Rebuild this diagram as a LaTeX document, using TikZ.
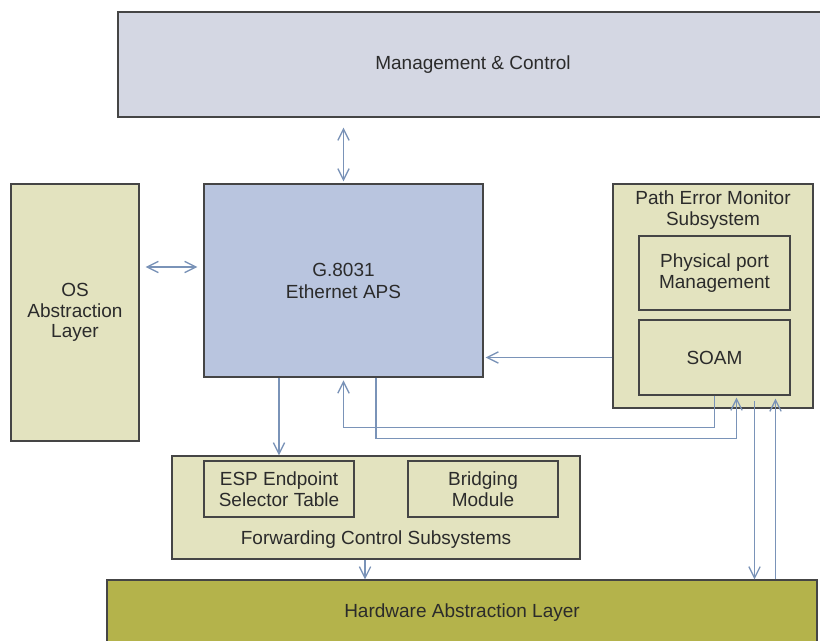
\documentclass[tikz,border=0pt]{standalone}
\usepackage{fontspec}
\setmainfont{Liberation Sans}
\usetikzlibrary{arrows.meta,calc}
\definecolor{mcfill}{HTML}{D4D7E3}
\definecolor{apsfill}{HTML}{B9C5DF}
\definecolor{khaki}{HTML}{E3E3BF}
\definecolor{halfill}{HTML}{B4B34B}
\definecolor{bordc}{HTML}{454545}
\definecolor{arrc}{HTML}{7A93B8}
\definecolor{txtc}{HTML}{2B2B2B}
\begin{document}
\begin{tikzpicture}[x=0.75pt,y=-0.75pt,
  box/.style={draw=bordc,line width=0.8pt,inner sep=0pt,text=txtc,align=center,
    font=\fontsize{14.25}{15.5}\selectfont},
  lbl/.style={inner sep=0pt,text=txtc,align=center,font=\fontsize{14.25}{15.5}\selectfont},
  arr/.style={draw=arrc,line width=1pt,-{Straight Barb[length=8.5pt,width=8.5pt]}},
  darr/.style={draw=arrc,line width=1pt,{Straight Barb[length=8.5pt,width=8.5pt]}-{Straight Barb[length=8.5pt,width=8.5pt]}}]
\useasboundingbox (0,0) rectangle (820,641);
\fill[white] (0,0) rectangle (820,641);
% boxes
\node[box,fill=mcfill,minimum width=710*0.75pt,minimum height=105*0.75pt] (mc) at (473,64.5) {Management \& Control};
\node[box,fill=apsfill,minimum width=279*0.75pt,minimum height=193*0.75pt] (aps) at (343.5,280.5) {G.8031\\[1pt]Ethernet APS};
\node[box,fill=khaki,minimum width=128*0.75pt,minimum height=257*0.75pt] (os) at (75,312.5) {OS\\Abstraction\\Layer};
\node[box,fill=khaki,minimum width=200*0.75pt,minimum height=224*0.75pt] (pem) at (713,296) {};
\node[lbl] (pemt) at (713,210) {Path Error Monitor\\Subsystem};
\node[box,fill=khaki,minimum width=151*0.75pt,minimum height=74*0.75pt] (ppm) at (714.5,273) {Physical port\\Management};
\node[box,fill=khaki,minimum width=151*0.75pt,minimum height=75*0.75pt] (soam) at (714.5,357.5) {SOAM};
\node[box,fill=khaki,minimum width=408*0.75pt,minimum height=103*0.75pt] (fcs) at (376,507.5) {};
\node[lbl] (fcst) at (376,540) {Forwarding Control Subsystems};
\node[box,fill=khaki,minimum width=150*0.75pt,minimum height=56*0.75pt] (esp) at (279,489) {ESP Endpoint\\Selector Table};
\node[box,fill=khaki,minimum width=150*0.75pt,minimum height=56*0.75pt] (brg) at (483,489) {Bridging\\Module};
\node[box,fill=halfill,minimum width=710*0.75pt,minimum height=66*0.75pt] (hal) at (462,613) {Hardware Abstraction Layer};
% connectors
\draw[darr,shorten <=7.5pt,shorten >=1.5pt] (aps.north |- mc.south) -- (aps.north);
\coordinate (osy) at ($(aps.west)+(0,-13.5)$);
\draw[darr,shorten <=4.5pt,shorten >=4.5pt] (os.east |- osy) -- (osy);
\draw[arr,shorten >=1.5pt] (pem.west |- soam.center) -- (aps.east |- soam.center);
\coordinate (apsf) at ($(aps.south)+(-64.5,0)$);
\draw[arr] (apsf) -- (apsf |- fcs.north);
\draw[arr,shorten >=2.2pt] (soam.south) -- ++(0,32) -| (aps.south);
\coordinate (apsd) at ($(aps.south)+(32.5,0)$);
\coordinate (soamu) at ($(soam.south)+(22,2)$);
\draw[arr] (apsd) |- ($(soamu)+(0,41)$) -- (soamu);
\coordinate (fcsd) at ($(fcs.south)+(-11,0)$);
\draw[arr] (fcsd) -- (fcsd |- hal.north);
\coordinate (soamd) at ($(soam.south)+(40,5)$);
\draw[arr] (soamd) -- (soamd |- hal.north);
\coordinate (soamu2) at ($(soam.south)+(61,3)$);
\draw[arr] (soamu2 |- hal.north) -- (soamu2);
\end{tikzpicture}
\end{document}
